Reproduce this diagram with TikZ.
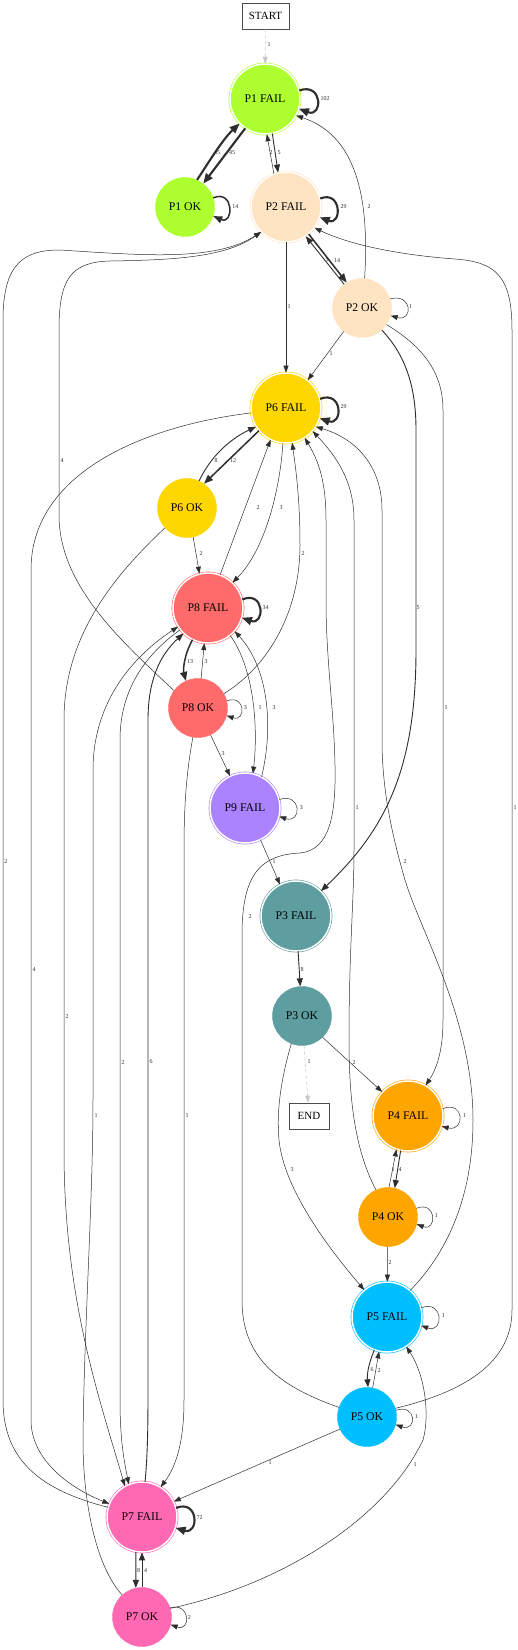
\documentclass[tikz,border=0pt]{standalone}
\usepackage{fontspec}
\setmainfont{Liberation Serif}
\usetikzlibrary{arrows.meta}
\definecolor{cpa}{HTML}{ADFF2F}
\definecolor{cpb}{HTML}{FFE4C4}
\definecolor{cpc}{HTML}{5F9EA0}
\definecolor{cpd}{HTML}{FFA500}
\definecolor{cpe}{HTML}{00BFFF}
\definecolor{cpf}{HTML}{FFD700}
\definecolor{cpg}{HTML}{FF69B4}
\definecolor{cph}{HTML}{FF6A6A}
\definecolor{cpi}{HTML}{AB82FF}
\definecolor{edgec}{HTML}{2E2E2E}
\definecolor{dashc}{HTML}{C8C8C8}
\begin{document}
\begin{tikzpicture}[x=1pt,y=-1pt,
  failnode/.style={circle, fill=#1, draw=#1, double=white, double distance=1.5pt, line width=0.6pt, minimum size=70pt, inner sep=0pt, font=\fontsize{11.8}{13}\selectfont},
  oknode/.style={circle, fill=#1, draw=#1, line width=0.4pt, minimum size=59pt, inner sep=0pt, font=\fontsize{11.8}{13}\selectfont},
  termnode/.style={draw=black!70, line width=0.7pt, fill=white, minimum height=26pt, inner sep=0pt, font=\fontsize{11}{13}\selectfont},
  lbl/.style={font=\fontsize{6}{7}\selectfont, text=edgec, inner sep=0.5pt},
  ea/.style={draw=edgec, line width=0.5pt, -{Triangle[length=7pt,width=5pt]}},
  eb/.style={draw=edgec, line width=0.9pt, -{Triangle[length=8pt,width=6pt]}},
  ec/.style={draw=edgec, line width=1.5pt, -{Triangle[length=9pt,width=7pt]}},
  ed/.style={draw=edgec, line width=2.1pt, -{Triangle[length=10pt,width=8pt]}},
  edash/.style={draw=dashc, line width=0.6pt, dashed, -{Triangle[length=7pt,width=5pt]}},
]
\useasboundingbox (0,0) rectangle (518,1650);
\fill[white] (0,0) rectangle (518,1650);

% nodes
\node[termnode, minimum width=47pt] (start) at (265.5,16) {START};
\node[failnode=cpa] (p1f) at (265,99) {P1 FAIL};
\node[oknode=cpa] (p1o) at (185,207) {P1 OK};
\node[failnode=cpb] (p2f) at (286,207) {P2 FAIL};
\node[oknode=cpb] (p2o) at (362,308) {P2 OK};
\node[failnode=cpf] (p6f) at (286,408) {P6 FAIL};
\node[oknode=cpf] (p6o) at (187,508) {P6 OK};
\node[failnode=cph] (p8f) at (208,608) {P8 FAIL};
\node[oknode=cph] (p8o) at (198,708) {P8 OK};
\node[failnode=cpi] (p9f) at (245,808) {P9 FAIL};
\node[failnode=cpc] (p3f) at (296,916) {P3 FAIL};
\node[oknode=cpc] (p3o) at (302,1016) {P3 OK};
\node[termnode, minimum width=40pt] (fin) at (309,1116) {END};
\node[failnode=cpd] (p4f) at (408,1116) {P4 FAIL};
\node[oknode=cpd] (p4o) at (388,1217) {P4 OK};
\node[failnode=cpe] (p5f) at (387,1317) {P5 FAIL};
\node[oknode=cpe] (p5o) at (367,1417) {P5 OK};
\node[failnode=cpg] (p7f) at (142,1517) {P7 FAIL};
\node[oknode=cpg] (p7o) at (142,1617) {P7 OK};

% START / P1
\draw[edash] (start) -- (p1f) node[lbl] (L0) at (269,45) {1};
\draw[ed] (p1f.14) .. controls (323,82) and (323,118) .. (p1f.-16) node[lbl,anchor=west] (L1) at (319,99) {102};
\draw[ed] (p1o.66) .. controls (207,165) and (222,140) .. (p1f.-136) node[lbl] (L2) at (217,153) {45};
\draw[ed] (p1f.-124) -- (p1o.52) node[lbl] (L3) at (232,153) {45};
\draw[ec] (p1o.18) .. controls (234,189) and (234,225) .. (p1o.-18) node[lbl,anchor=west] (L4) at (231,207) {14};
\draw[ea] (p2f.110) -- (p1f.-87) node[lbl] (L5) at (271,153) {2};
\draw[eb] (p1f.-78) -- (p2f.103) node[lbl] (L6) at (279,153) {5};

% P2
\draw[ed] (p2f.14) .. controls (342,190) and (342,226) .. (p2f.-17) node[lbl,anchor=west] (L7) at (339,207) {29};
\draw[eb] (p2o.127) -- (p2f.-56) node[lbl] (L8) at (327,260) {5};
\draw[ec] (p2f.-50) -- (p2o.121) node[lbl] (L9) at (337,261) {14};
\draw[ea] (p2o.85) .. controls (370,195) and (355,135) .. (p1f.-28) node[lbl] (L10) at (369,207) {2};
\draw[ea] (p5o.17) .. controls (450,1395) and (512,1370) .. (512,1310) -- (512,330) .. controls (512,275) and (495,262) .. (455,259) .. controls (400,255) and (350,245) .. (p2f.-36) node[lbl] (L11) at (515,808) {1};
\draw[ea] (p7f.164) .. controls (40,1490) and (3,1460) .. (3,1400) -- (3,320) .. controls (3,262) and (25,250) .. (60,250) .. controls (140,255) and (215,262) .. (p2f.-135) node[lbl] (L12) at (6,862) {2};
\draw[ea] (p8o.144) .. controls (120,640) and (59,585) .. (59,515) -- (59,330) .. controls (59,280) and (70,262) .. (110,261) .. controls (170,260) and (225,258) .. (p2f.-135) node[lbl] (L13) at (62,461) {4};
\draw[ea] (p2f) -- (p6f) node[lbl] (L14) at (289,307) {1};
\draw[ea] (p2o.18) .. controls (413,293) and (413,322) .. (p2o.-15) node[lbl,anchor=west] (L15) at (408,307) {1};
\draw[ea] (p2o.-128) -- (p6f.52) node[lbl] (L16) at (331,354) {1};
\draw[eb] (p2o.-48) .. controls (405,355) and (416,385) .. (416,430) -- (416,650) .. controls (416,770) and (385,830) .. (p3f.45) node[lbl] (L17) at (418,608) {5};
\draw[ea] (p2o.-34) .. controls (420,345) and (443,370) .. (443,410) -- (443,1020) .. controls (443,1050) and (437,1068) .. (p4f.60) node[lbl] (L18) at (446,708) {1};

% P6
\draw[ed] (p6f.15) .. controls (343,390) and (343,426) .. (p6f.-17) node[lbl,anchor=west] (L19) at (339,407) {29};
\draw[eb] (p6o.66) .. controls (210,458) and (228,440) .. (p6f.-148) node[lbl] (L20) at (216,461) {8};
\draw[ec] (p6f.-140) -- (p6o.55) node[lbl] (L21) at (233,461) {12};
\draw[ea] (p6f.-172) .. controls (150,425) and (31,470) .. (31,570) -- (31,1420) .. controls (31,1460) and (70,1488) .. (p7f.158) node[lbl] (L22) at (34,970) {4};
\draw[ea] (p6o.-78) -- (p8f.104) node[lbl] (L23) at (201,554) {2};
\draw[ea] (p6o.-138) .. controls (115,575) and (64,635) .. (64,720) -- (64,1150) .. controls (64,1300) and (100,1400) .. (p7f.119) node[lbl] (L24) at (67,1016) {2};

% P8
\draw[ed] (p8f.14) .. controls (265,590) and (265,626) .. (p8f.-16) node[lbl,anchor=west] (L25) at (261,608) {34};
\draw[ea] (p8f.70) -- (p6f.-116) node[lbl] (L26) at (258,508) {2};
\draw[ea] (p6f.-95) .. controls (280,490) and (265,550) .. (p8f.46) node[lbl] (L27) at (281,508) {3};
\draw[ea] (p8o.29) .. controls (270,665) and (300,610) .. (300,545) .. controls (300,500) and (296,470) .. (p6f.-80) node[lbl] (L28) at (303,554) {2};
\draw[ec] (p8f.-116) .. controls (184,655) and (183,670) .. (p8o.114) node[lbl] (L32) at (190,662) {13};
\draw[ea] (p8o.84) -- (p8f.-96) node[lbl] (L33) at (206,662) {3};
\draw[ea] (p8o.14) .. controls (246,694) and (246,722) .. (p8o.-15) node[lbl,anchor=west] (L34) at (243,708) {3};
\draw[ea] (p8o.-65) -- (p9f.115) node[lbl] (L35) at (223,754) {3};
\draw[ea] (p8f.-51) .. controls (255,670) and (258,730) .. (p9f.77) node[lbl] (L36) at (260,708) {1};
\draw[ea] (p9f.62) .. controls (273,730) and (270,670) .. (p8f.-41) node[lbl] (L37) at (274,708) {3};
\draw[ea] (p8f.-142) .. controls (145,655) and (120,690) .. (120,740) -- (120,1400) .. controls (120,1440) and (124,1460) .. (p7f.112) node[lbl] (L59) at (123,1062) {2};
\draw[ea] (p8o.-100) .. controls (187,770) and (184,800) .. (184,850) -- (184,1400) .. controls (184,1440) and (177,1465) .. (p7f.58) node[lbl] (L61) at (187,1116) {1};

% P4 / P5 into P6
\draw[ea] (p4o.114) .. controls (355,1150) and (349,1100) .. (349,1040) .. controls (349,950) and (354,900) .. (354,850) -- (354,520) .. controls (354,480) and (335,455) .. (p6f.-41) node[lbl] (L29) at (357,808) {1};
\draw[ea] (p5o.161) .. controls (275,1385) and (242,1355) .. (242,1300) -- (242,935) .. controls (242,872) and (262,855) .. (300,853) .. controls (330,850) and (336,815) .. (335,765) .. controls (334,710) and (326,660) .. (326,600) -- (326,520) .. controls (326,480) and (318,460) .. (p6f.-58) node[lbl] (L30) at (250,916) {2};
\draw[ea] (p5f.49) .. controls (445,1255) and (473,1200) .. (473,1120) .. controls (473,1020) and (420,930) .. (405,880) .. controls (392,835) and (382,790) .. (382,740) -- (382,510) .. controls (382,470) and (360,440) .. (p6f.-32) node[lbl] (L31) at (405,862) {2};

% P9 / P3
\draw[ea] (p9f.14) .. controls (302,792) and (302,824) .. (p9f.-14) node[lbl,anchor=west] (L38) at (299,808) {3};
\draw[ea] (p9f.-64) -- (p3f.117) node[lbl] (L39) at (274,862) {1};
\draw[eb] (p3f) -- (p3o) node[lbl] (L40) at (302,970) {8};
\draw[edash] (p3o) -- (fin) node[lbl] (L41) at (309,1062) {1};
\draw[ea] (p3o.-46) -- (p4f.137) node[lbl] (L42) at (354,1062) {2};
\draw[ea] (p3o.-111) .. controls (282,1075) and (276,1110) .. (279,1140) .. controls (284,1190) and (330,1250) .. (p5f.130) node[lbl] (L43) at (292,1170) {3};

% P4
\draw[ea] (p4f.12) .. controls (465,1100) and (465,1132) .. (p4f.-17) node[lbl,anchor=west] (L44) at (462,1116) {1};
\draw[ea] (p4o.88) -- (p4f.-109) node[lbl] (L45) at (393,1170) {1};
\draw[eb] (p4f.-102) -- (p4o.77) node[lbl] (L46) at (400,1170) {4};
\draw[ea] (p4o.17) .. controls (437,1200) and (437,1232) .. (p4o.-14) node[lbl,anchor=west] (L47) at (434,1216) {1};
\draw[ea] (p4o) -- (p5f) node[lbl] (L48) at (390,1262) {2};

% P5
\draw[ea] (p5f.15) .. controls (444,1299) and (444,1334) .. (p5f.-14) node[lbl,anchor=west] (L49) at (441,1316) {1};
\draw[eb] (p5f.-111) .. controls (368,1365) and (367,1375) .. (p5o.88) node[lbl] (L50) at (372,1370) {6};
\draw[ea] (p5o.79) -- (p5f.-103) node[lbl] (L51) at (379,1370) {2};
\draw[ea] (p5o.13) .. controls (417,1403) and (417,1432) .. (p5o.-15) node[lbl,anchor=west] (L52) at (414,1417) {1};
\draw[ea] (p5o.-156) -- (p7f.26) node[lbl] (L53) at (270,1463) {1};
\draw[ea] (p7o.17) .. controls (280,1585) and (385,1520) .. (423,1440) .. controls (430,1415) and (425,1375) .. (p5f.-57) node[lbl] (L54) at (415,1465) {1};

% P7
\draw[ed] (p7f.15) .. controls (199,1499) and (199,1535) .. (p7f.-18) node[lbl,anchor=west] (L55) at (195,1517) {72};
\draw[eb] (p7f.-100) -- (p7o.102) node[lbl] (L56) at (138.5,1571) {8};
\draw[eb] (p7o.90) -- (p7f.-90) node[lbl] (L57) at (145.5,1571) {4};
\draw[eb] (p7f.85) .. controls (148,1450) and (148,1420) .. (148,1380) -- (148,720) .. controls (148,680) and (160,655) .. (p8f.-134) node[lbl] (L58) at (151,1062) {6};
\draw[ea] (p7o.132) .. controls (95,1565) and (83,1500) .. (83,1440) .. controls (84,1330) and (93,1200) .. (93,1100) -- (93,770) .. controls (93,700) and (135,655) .. (p8f.-148) node[lbl] (L60) at (96,1116) {1};
\draw[ea] (p7o.18) .. controls (191,1602) and (191,1632) .. (p7o.-15) node[lbl,anchor=west] (L62) at (187,1617) {2};
\end{tikzpicture}
\end{document}
